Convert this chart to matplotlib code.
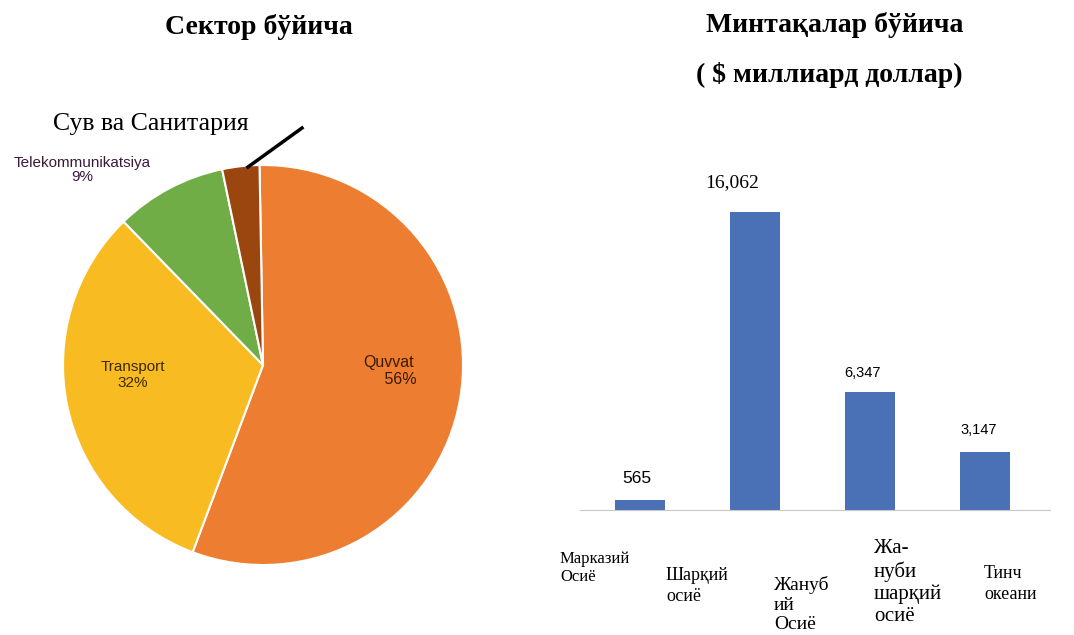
import matplotlib
matplotlib.use("Agg")
import matplotlib.pyplot as plt

# Data
sectors = ["Quvvat", "Transport", "Telekommunikatsiya", "Сув ва Санитария"]
shares = [56, 32, 9, 3]
sector_colors = ["#ED7D31", "#F8BC22", "#70AD47", "#9C460F"]

regions = ["Марказий\nОсиё", "Шарқий\nосиё", "Жануб\nий\nОсиё",
           "Жа-\nнуби\nшарқий\nосиё", "Тинч\nокеани"]
region_values = [565, 16062, 6347, 3147]
value_labels = ["565", "16,062", "6,347", "3,147"]

W, H = 1074, 635
fig = plt.figure(figsize=(W / 100, H / 100), dpi=100)

def px(x, y):
    # pixel (from top-left) -> figure fraction
    return x / W, 1 - y / H

serif = "Liberation Serif"
sans = "Liberation Sans"

# Pie chart
cx, cy, r = 263, 365, 200
ax1 = fig.add_axes([(cx - r) / W, (H - cy - r) / H, 2 * r / W, 2 * r / H])
ax1.pie(shares, colors=sector_colors, startangle=91, counterclock=False,
        wedgeprops=dict(edgecolor="white", linewidth=1.5))
ax1.set_xlim(-1, 1)
ax1.set_ylim(-1, 1)
ax1.axis("off")

fig.text(*px(259, 27), "Сектор бўйича", fontsize=20, fontweight="bold",
         family=serif, ha="center", va="center")
fig.text(*px(151, 124), sectors[3], fontsize=18.5, family=serif,
         ha="center", va="center")
fig.text(*px(82, 170), f"{sectors[2]}\n{shares[2]}%", fontsize=11, family=sans,
         ha="center", va="center", linespacing=1.0, color="#3a1a3a")
fig.text(*px(133, 375), f"{sectors[1]}\n{shares[1]}%", fontsize=11, family=sans,
         ha="center", va="center", linespacing=1.1, color="#3a2a00")
fig.text(*px(389, 371), f"{sectors[0]}\n     {shares[0]}%", fontsize=11.5, family=sans,
         ha="center", va="center", linespacing=1.1, color="#3a1a00")
fig.add_artist(plt.Line2D([248 / W, 302 / W], [1 - 167 / H, 1 - 128 / H],
                          color="black", linewidth=2.5))

# Bar chart
x0, x1 = 580, 1050
base, top = 510, 160
ax2 = fig.add_axes([x0 / W, (H - base) / H, (x1 - x0) / W, (base - top) / H])
pos = list(range(len(region_values)))
ax2.bar(pos, region_values, width=0.435, color="#4A70B5")
ax2.set_xlim(-0.52, 3.565)
ax2.set_ylim(0, 16062 * (base - top) / 298)
for s in ["top", "right", "left"]:
    ax2.spines[s].set_visible(False)
ax2.spines["bottom"].set_color("#c8c8c8")
ax2.set_xticks([])
ax2.set_yticks([])

# (family, size, dx px, dy px)
label_styles = [(sans, 12.5, -3, 21), (serif, 14, -23, 29),
                (sans, 10.5, -7, 19), (sans, 10.5, -6, 22)]
for i, (v, lab) in enumerate(zip(region_values, value_labels)):
    fam, fs, dx, dy = label_styles[i]
    ax2.annotate(lab, (pos[i], v), xytext=(dx * 0.72, dy * 0.72),
                 textcoords="offset points", ha="center", va="center",
                 fontsize=fs, family=fam)

fig.text(*px(835, 25), "Минтақалар бўйича", fontsize=20, fontweight="bold",
         family=serif, ha="center", va="center")
fig.text(*px(829, 75), "( $ миллиард доллар)", fontsize=20, fontweight="bold",
         family=serif, ha="center", va="center")

# (x, y, size, linespacing)
cat_pos = [(560, 551, 12, 1.2), (666, 567, 13, 1.3), (774, 576, 14, 1.2),
           (874, 539, 15, 1.2), (984, 565, 13, 1.3)]
for name, (x, y, fs, ls) in zip(regions, cat_pos):
    fig.text(*px(x, y), name, fontsize=fs, family=serif, ha="left", va="top",
             linespacing=ls)

fig.savefig("out.png", dpi=100)
